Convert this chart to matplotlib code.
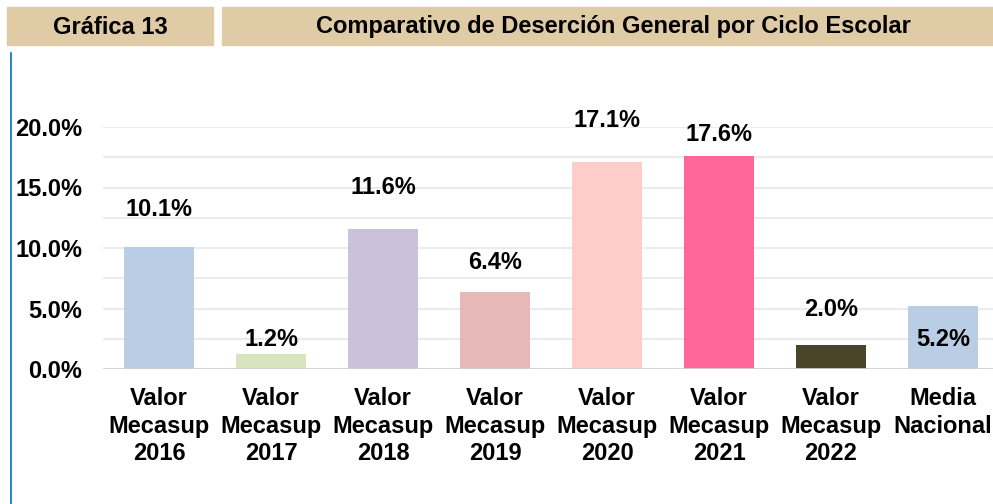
import numpy as np
import matplotlib.pyplot as plt
from matplotlib.patches import Rectangle

plt.rcParams['font.family'] = ['Liberation Sans', 'DejaVu Sans']

categories = ['Valor\nMecasup\n2016', 'Valor\nMecasup\n2017', 'Valor\nMecasup\n2018',
              'Valor\nMecasup\n2019', 'Valor\nMecasup\n2020', 'Valor\nMecasup\n2021',
              'Valor\nMecasup\n2022', 'Media\nNacional']
values = [10.1, 1.2, 11.6, 6.4, 17.1, 17.6, 2.0, 5.2]
colors = ['#B9CDE5', '#D7E4BD', '#CCC1DA', '#E6B9B8', '#FFCCCC', '#FF6699', '#4A452A', '#B9CDE5']
# vertical offset of each value label from its bar top (in % units)
label_offsets = [3.05, 1.25, 3.4, 2.4, 3.4, 1.75, 2.9, -2.8]

W, H = 993, 504
fig = plt.figure(figsize=(W / 100, H / 100), dpi=100)

# header boxes
hdr_color = '#DFCBA6'
fig.patches.append(Rectangle((7 / W, 1 - 45 / H), 206 / W, 38 / H, transform=fig.transFigure,
                             color=hdr_color, zorder=0))
fig.patches.append(Rectangle((222 / W, 1 - 45 / H), (W - 222) / W, 38 / H, transform=fig.transFigure,
                             color=hdr_color, zorder=0))
fig.text(110 / W, 1 - 27 / H, 'Gráfica 13', ha='center', va='center', fontsize=17, fontweight='bold')
fig.text(613 / W, 1 - 27 / H, 'Comparativo de Deserción General por Ciclo Escolar',
         ha='center', va='center', fontsize=17, fontweight='bold')

# blue line at left
fig.add_artist(plt.Line2D([11 / W, 11 / W], [0, 1 - 53 / H], transform=fig.transFigure,
                          color='#0070C0', lw=1.2))

left, right, bottom, top = 103, 999, 369, 127
ax = fig.add_axes([left / W, 1 - bottom / H, (right - left) / W, (bottom - top) / H])
x = np.arange(len(values))
ax.bar(x, values, width=0.625, color=colors, zorder=2)
ax.set_xlim(-0.5, len(values) - 0.5)
ax.set_ylim(0, 20)

for yy in np.arange(2.5, 20.01, 2.5):
    ax.axhline(yy, color='#EBEBEB', lw=1.5, zorder=1)
ax.axhline(0, color='#D0D0D0', lw=2, zorder=3)

for xi, v, off in zip(x, values, label_offsets):
    ax.text(xi, v + off, f'{v:.1f}%', ha='center', va='center', fontsize=17,
            fontweight='bold', zorder=4, clip_on=False)

ax.set_yticks([0, 5, 10, 15, 20])
ax.set_yticklabels([f'{t:.1f}%' for t in [0, 5, 10, 15, 20]], fontsize=17, fontweight='bold')
ax.set_xticks(x)
ax.set_xticklabels(categories, fontsize=17, fontweight='bold', linespacing=1.25)
ax.tick_params(length=0, pad=13)
ax.tick_params(axis='y', pad=15)
for s in ax.spines.values():
    s.set_visible(False)

fig.savefig('out.png', dpi=100)
